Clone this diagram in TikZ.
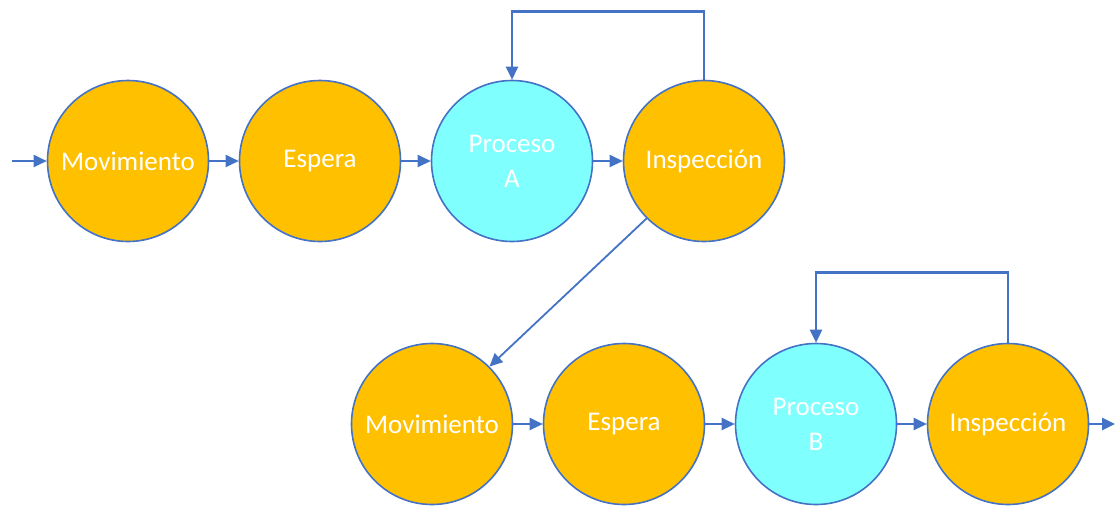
\documentclass[tikz,border=0pt]{standalone}
\usepackage{fontspec}
\setmainfont{Carlito}
\usetikzlibrary{arrows.meta}
\definecolor{orng}{HTML}{FFC000}
\definecolor{cyn}{HTML}{80FFFF}
\definecolor{blu}{HTML}{4472C4}
\tikzset{
  circ/.style={circle, draw=blu, line width=1.6pt, minimum size=161pt, inner sep=0pt,
    text=white, align=center, font=\fontsize{27}{35}\selectfont},
  orng circ/.style={circ, fill=orng},
  cyn circ/.style={circ, fill=cyn},
  arr/.style={draw=blu, line width=2.5pt, -{Triangle[length=13pt,width=12pt]}}
}
\begin{document}
\begin{tikzpicture}[x=1pt,y=-1pt]
\useasboundingbox (0,0) rectangle (1115,506);
\node[orng circ] (m1) at (128,161) {Movimiento};
\node[orng circ] (e1) at (320,161) {Espera};
\node[cyn circ]  (p1) at (512,161) {Proceso\\A};
\node[orng circ] (i1) at (704,161) {Inspección};
\node[orng circ] (m2) at (432,424) {Movimiento};
\node[orng circ] (e2) at (624,424) {Espera};
\node[cyn circ]  (p2) at (816,424) {Proceso\\B};
\node[orng circ] (i2) at (1008,424) {Inspección};
\coordinate (in) at (12,161);
\coordinate (out) at (1115,424);
\draw[arr] (in) -- (m1);
\draw[arr] (m1) -- (e1);
\draw[arr] (e1) -- (p1);
\draw[arr] (p1) -- (i1);
\draw[arr] (i1.north) -- ++(0,-68) -| (p1.north);
\draw[arr, line width=1.8pt] (i1.-135) -- (m2.45);
\draw[arr] (m2) -- (e2);
\draw[arr] (e2) -- (p2);
\draw[arr] (p2) -- (i2);
\draw[arr] (i2.north) -- ++(0,-70) -| (p2.north);
\draw[arr] (i2) -- (out);
\end{tikzpicture}
\end{document}
